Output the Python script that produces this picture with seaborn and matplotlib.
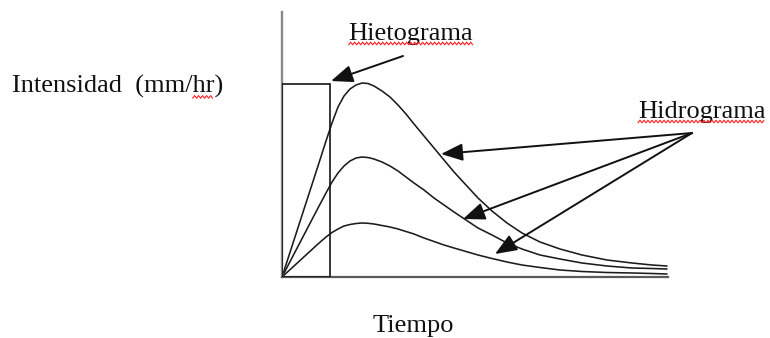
import numpy as np
import pandas as pd
import matplotlib
matplotlib.use("Agg")
import matplotlib.pyplot as plt
from matplotlib.lines import Line2D
import seaborn as sns

# Time axis (arbitrary units) shared by the three hydrographs
tiempo = [0, 12, 24, 36, 44, 50, 56, 62, 68, 74, 80, 86, 92, 100, 108, 116,
          124, 132, 142, 152, 162, 172, 184, 196, 210, 225, 240, 258, 278,
          300, 325, 350, 370, 385]
hidrograma_alto = [0, 37, 74, 111, 136, 154, 170, 181, 188, 192, 194, 193.5,
                   191, 186, 180, 172, 163, 153, 141, 129, 117, 105, 92, 79,
                   66, 54, 44, 35, 28, 22, 17, 14, 12, 11]
hidrograma_medio = [0, 23, 46, 69, 84, 95, 104, 111, 116, 119, 120, 119.5,
                    118, 115, 111, 106, 100, 94, 87, 79, 72, 65, 57, 49, 42,
                    34, 28, 22, 18, 14, 11, 9, 8.5, 8]
hidrograma_bajo = [0, 11, 22, 33, 40, 44.5, 48, 51, 52.5, 53.5, 54, 53.7, 53,
                   51.5, 50, 48, 45.5, 43, 39, 35.5, 32, 29, 25.5, 22, 18.5,
                   15, 12, 9.5, 7, 5.5, 4.5, 4, 3.5, 3]

# Rainfall block (hyetograph): duration and intensity
hieto_duracion = [48]
hieto_intensidad = [193]

series_names = ["alto", "medio", "bajo"]

df = pd.DataFrame({
    "Tiempo": tiempo * 3,
    "Q": hidrograma_alto + hidrograma_medio + hidrograma_bajo,
    "serie": sum([[n] * len(tiempo) for n in series_names], []),
})

sns.set_theme(style="white")
plt.rcParams["font.family"] = ["Liberation Serif", "DejaVu Serif"]

W, H = 770, 338
fig = plt.figure(figsize=(W / 100, H / 100), dpi=100)
fig.patch.set_facecolor("white")
ax = fig.add_axes([282 / W, (H - 277) / H, (668 - 282) / W, (277 - 12) / H])
ax.set_facecolor("white")

sns.lineplot(data=df, x="Tiempo", y="Q", hue="serie", palette=["#1c1c1c"] * 3,
             estimator=None, sort=False, legend=False, linewidth=1.15, ax=ax)

ax.bar(0, hieto_intensidad[0], width=hieto_duracion[0], align="edge",
       fill=False, edgecolor="#151515", linewidth=1.2, zorder=3)

ax.set_xlim(0, 386)
ax.set_ylim(0, 265)
ax.set_xticks([])
ax.set_yticks([])
ax.set_xlabel("")
ax.set_ylabel("")
sns.despine(ax=ax)
ax.spines["left"].set_color("#8a8a8a")
ax.spines["left"].set_linewidth(1.7)
ax.spines["bottom"].set_color("#5a5a5a")
ax.spines["bottom"].set_linewidth(1.6)

FS = 19
arrow = dict(arrowstyle="-|>,head_length=0.95,head_width=0.38",
             color="#111111", lw=1.4, shrinkA=0, shrinkB=0, mutation_scale=14)

# Hyetograph label and pointer to the rainfall block
t_hieto = ax.text(129, 237, "Hietograma", fontsize=FS, ha="center",
                  va="baseline", color="#111111")
ax.annotate("", xy=(hieto_duracion[0] + 1, hieto_intensidad[0] + 3),
            xytext=(121, 221), arrowprops=arrow, annotation_clip=False)

# Hydrograph label and pointers to each curve
t_hidro = ax.text(356, 159, "Hidrograma", fontsize=FS, ha="left",
                  va="baseline", color="#111111", clip_on=False)
for head in [(159, 123), (181, 58), (213, 23)]:
    ax.annotate("", xy=head, xytext=(410, 144), arrowprops=arrow,
                annotation_clip=False)

t_int = fig.text(12 / W, 1 - 93 / H, "Intensidad  (mm/hr)", fontsize=FS,
                 ha="left", va="baseline", color="#111111")
fig.text(413 / W, 1 - 332 / H, "Tiempo", fontsize=FS, ha="center",
         va="baseline", color="#111111")

# Red wavy underline (spell-check style) under flagged words
fig.canvas.draw()
renderer = fig.canvas.get_renderer()


def text_width(s):
    tmp = fig.text(0, 0, s, fontsize=FS)
    w = tmp.get_window_extent(renderer).width
    tmp.remove()
    return w


def squiggle(x0, x1, y):
    xs = np.arange(x0, x1 + 0.01, 2.0)
    ys = y + np.where(np.arange(len(xs)) % 2 == 0, -1.3, 1.3)
    fig.add_artist(Line2D(xs / W, ys / H, transform=fig.transFigure,
                          color="#ff2020", lw=0.8))


for t in (t_hieto, t_hidro):
    bb = t.get_window_extent(renderer)
    squiggle(bb.x0, bb.x1, bb.y0 + 1.5)

bb = t_int.get_window_extent(renderer)
x_end = bb.x1 - text_width(")")
x_start = x_end - text_width("hr")
squiggle(x_start, x_end, bb.y0 + 1.5)

fig.savefig("out.png", dpi=100, facecolor="white")
